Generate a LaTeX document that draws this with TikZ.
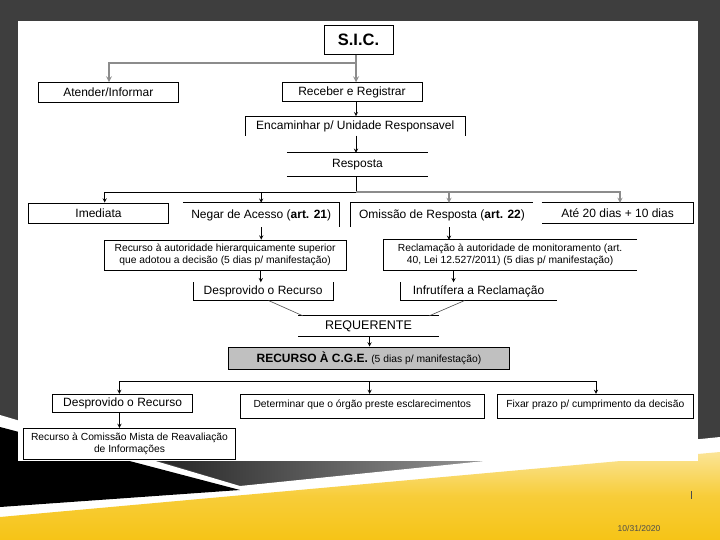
\documentclass[tikz,border=0pt]{standalone}
\usepackage{fontspec}
\setmainfont{Liberation Sans}
\usepackage{xcolor}
\usetikzlibrary{shapes.geometric, arrows, positioning, calc}
\definecolor{slidebg}{RGB}{62,62,62}
\definecolor{slideyellow}{RGB}{246,196,22}
\definecolor{linegrey}{RGB}{140,140,140}
\definecolor{cgegrey}{RGB}{192,192,192}
\tikzstyle{box} = [rectangle, draw=black, line width=0.9pt, inner sep=0pt, text centered, font=\fontsize{12}{14}\selectfont]
\tikzstyle{openbox} = [rectangle, inner sep=0pt, text centered, font=\fontsize{12}{14}\selectfont]
\tikzstyle{smalltext} = [font=\fontsize{10.3}{12}\selectfont, align=center]
\tikzstyle{edge} = [line width=0.9pt]
\tikzstyle{arrow} = [line width=0.9pt,->,>=stealth]
\tikzstyle{greyarrow} = [line width=1.6pt,draw=linegrey,->,>=stealth]

\begin{document}
\begin{tikzpicture}[x=1pt, y=-1pt]
    \useasboundingbox (0,0) rectangle (720,540);
    \fill[slidebg] (0,0) rectangle (720,540);
    \shade[left color=gray!30!black, right color=gray!65] (160,461) -- (552,461) -- (262,492) -- cycle;
    \fill[white] (0,415) -- (240,486) -- (720,437) -- (720,455) -- (0,520) -- cycle;
    \fill[black] (0,427) -- (240,490) -- (0,507) -- cycle;
    \shade[top color=slideyellow!45!white, bottom color=slideyellow, middle color=slideyellow!85!white] (0,517) -- (720,452) -- (720,540) -- (0,540) -- cycle;
    \fill[white] (17.5,20.7) rectangle (698,461.4);
    \draw[gray!60!black, line width=0.8pt] (691,491) -- (691,499);
    \node (date) [font=\fontsize{8.5}{10}\selectfont, text=gray!60!black] at (639,528) {10/31/2020};

    \coordinate (spine) at (356,0);
    \node (sic) [box, minimum width=69pt, minimum height=29pt, font=\fontsize{16.5}{18}\selectfont\bfseries] at (358.5,40) {S.I.C.};
    \node (atender) [box, minimum width=139.4pt, minimum height=19.7pt] at (108.3,92.5) {Atender/Informar};
    \node (receber) [box, minimum width=140pt, minimum height=18.6pt] at (352,92) {Receber e Registrar};
    \node (encaminhar) [openbox, minimum width=219.4pt, minimum height=19pt] at (355.3,125.9) {Encaminhar p/ Unidade Responsavel};
    \node (resposta) [openbox, minimum width=141pt, minimum height=23.3pt] at (357.5,164.7) {Resposta};
    \node (imediata) [box, minimum width=140pt, minimum height=20pt] at (98.5,213) {Imediata};
    \node (negar) [openbox, minimum width=156.5pt, minimum height=24pt] at (261.2,215) {Negar de Acesso (\textbf{art. 21})};
    \node (omissao) [openbox, minimum width=182pt, minimum height=24pt] at (442,215) {Omissão de Resposta (\textbf{art. 22})};
    \node (ate) [openbox, minimum width=151.8pt, minimum height=20pt] at (617.6,213) {Até 20 dias + 10 dias};
    \node (recursoA) [box, smalltext, minimum width=241.8pt, minimum height=30.3pt] at (225.1,255.2) {Recurso à autoridade hierarquicamente superior\\que adotou a decisão (5 dias p/ manifestação)};
    \node (reclamacao) [openbox, smalltext, minimum width=253.4pt, minimum height=30.3pt] at (510.1,255.2) {Reclamação à autoridade de monitoramento (art.\\40, Lei 12.527/2011) (5 dias p/ manifestação)};
    \node (desp1) [openbox, minimum width=139.6pt, minimum height=17.9pt] at (263.1,291.4) {Desprovido o Recurso};
    \node (infrut) [openbox, minimum width=156.1pt, minimum height=17.9pt] at (478.5,291.4) {Infrutífera a Reclamação};
    \node (requerente) [openbox, minimum width=140.1pt, minimum height=20pt, font=\fontsize{12.5}{14}\selectfont] at (368.5,326) {REQUERENTE};
    \node (cge) [box, fill=cgegrey, minimum width=280.6pt, minimum height=22.1pt] at (368.9,358) {\textbf{RECURSO À C.G.E.} {\fontsize{10.3}{12}\selectfont (5 dias p/ manifestação)}};
    \node (desp2) [box, minimum width=140.5pt, minimum height=17.9pt] at (122.6,403.3) {Desprovido o Recurso};
    \node (determinar) [box, smalltext, text height=9pt, text depth=7pt, minimum width=243.4pt, minimum height=24.1pt] at (362.3,406.4) {Determinar que o órgão preste esclarecimentos};
    \node (fixar) [box, smalltext, text height=9pt, text depth=7pt, minimum width=196.1pt, minimum height=24.1pt] at (595.3,406.4) {Fixar prazo p/ cumprimento da decisão};
    \node (comissao) [box, smalltext, minimum width=212.1pt, minimum height=31pt] at (129.5,443.9) {Recurso à Comissão Mista de Reavaliação\\de Informações};

    \draw [edge] (encaminhar.south west) -- (encaminhar.north west) -- (encaminhar.north east) -- (encaminhar.south east);
    \draw [edge] (resposta.north west) -- (resposta.north east);
    \draw [edge] (resposta.south west) -- (resposta.south east);
    \draw [edge] (negar.north west) -- (negar.north east) -- (negar.south east);
    \draw [edge] (omissao.south west) -- (omissao.north west) -- (omissao.north east);
    \draw [edge] (ate.north west) -- (ate.north east) -- (ate.south east) -- (ate.south west);
    \draw [edge] (reclamacao.north east) -- (reclamacao.north west) -- (reclamacao.south west) -- (reclamacao.south east);
    \draw [edge] (desp1.north west) -- (desp1.south west) -- (desp1.south east) -- (desp1.north east);
    \draw [edge] (infrut.north west) -- (infrut.south west) -- (infrut.south east);
    \draw [edge] (requerente.north west) -- (requerente.north east);
    \draw [edge] (requerente.south west) -- (requerente.south east);

    \draw [greyarrow] (sic.south -| spine) -- ++(0,8.3) -| ([xshift=0.7pt]atender.north);
    \draw [greyarrow] (sic.south -| spine) -- (receber.north -| spine);
    \draw [arrow] (receber.south -| spine) -- (encaminhar.north -| spine);
    \draw [arrow] (encaminhar.south -| spine) -- (resposta.north -| spine);
    \coordinate (bus) at ([yshift=-15.5pt]resposta.south -| spine);
    \draw [edge] (resposta.south -| spine) -- (bus);
    \draw [arrow] (bus) -| ([xshift=6.2pt]imediata.north);
    \draw [arrow] (bus) -| (negar.north);
    \draw [arrow, draw=linegrey, line width=1.2pt] (bus) -| ([xshift=7pt]omissao.north);
    \draw [arrow, draw=linegrey, line width=1.2pt] (bus) -| ([xshift=2.4pt]ate.north);
    \draw [arrow] (negar.south) -- (negar.south |- recursoA.north);
    \draw [arrow] ([xshift=7pt]omissao.south) -- ([xshift=7pt]omissao.south |- reclamacao.north);
    \draw [arrow] ([xshift=-2.3pt]desp1.north |- recursoA.south) -- ([xshift=-2.3pt]desp1.north);
    \draw [arrow] ([xshift=-24.9pt]infrut.north |- reclamacao.south) -- ([xshift=-24.9pt]infrut.north);
    \draw [gray!60!black, line width=0.6pt] ([xshift=5.5pt]desp1.south) -- ([xshift=4.6pt]requerente.north west);
    \draw [gray!60!black, line width=0.6pt] ([xshift=-13.9pt]infrut.south) -- ([xshift=-9.5pt]requerente.north east);
    \draw [arrow] ([xshift=1.1pt]requerente.south) -- ([xshift=1.1pt]requerente.south |- cge.north);
    \coordinate (fork) at ([xshift=0.7pt,yshift=-12.4pt]cge.south);
    \draw [arrow] (fork) -| ([xshift=-3.2pt]desp2.north);
    \draw [arrow] (fork) -- (fork |- determinar.north);
    \draw [arrow] (fork) -| ([xshift=0.7pt]fixar.north);
    \draw [arrow] ([xshift=-3.2pt]desp2.south) -- ([xshift=-3.2pt]desp2.south |- comissao.north);
\end{tikzpicture}
\end{document}
